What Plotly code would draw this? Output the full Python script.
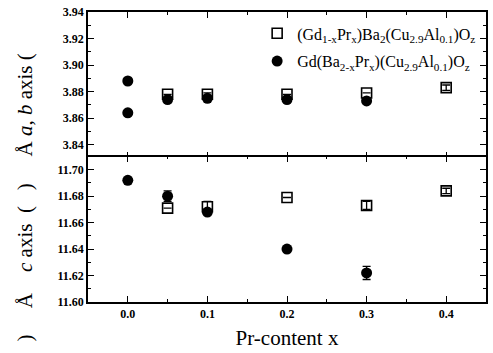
import plotly.graph_objects as go
from plotly.subplots import make_subplots

# Top panel: a, b axis (Å)
ab_sq_x = [0.05, 0.1, 0.2, 0.3, 0.4]
ab_sq_y = [3.878, 3.878, 3.878, 3.879, 3.883]
ab_sq_err = [0.0, 0.001, 0.0, 0.0, 0.002]
ab_ci_x = [0.0, 0.0, 0.05, 0.1, 0.2, 0.3]
ab_ci_y = [3.888, 3.864, 3.874, 3.875, 3.874, 3.873]

# Bottom panel: c axis (Å)
c_sq_x = [0.05, 0.1, 0.2, 0.3, 0.4]
c_sq_y = [11.671, 11.672, 11.679, 11.673, 11.684]
c_sq_err = [0.0, 0.004, 0.0, 0.003, 0.002]
c_ci_x = [0.0, 0.05, 0.1, 0.2, 0.3]
c_ci_y = [11.692, 11.680, 11.668, 11.640, 11.622]
c_ci_err = [0.0, 0.004, 0.0, 0.0, 0.005]

x_ticks = [0.0, 0.1, 0.2, 0.3, 0.4]
x_ticklabels = ["0.0", "0.1", "0.2", "0.3", "0.4"]
ab_ticks = [3.84, 3.86, 3.88, 3.90, 3.92, 3.94]
c_ticks = [11.60, 11.62, 11.64, 11.66, 11.68, 11.70]

name_sq = "(Gd<sub>1-x</sub>Pr<sub>x</sub>)Ba<sub>2</sub>(Cu<sub>2.9</sub>Al<sub>0.1</sub>)O<sub>z</sub>"
name_ci = "Gd(Ba<sub>2-x</sub>Pr<sub>x</sub>)(Cu<sub>2.9</sub>Al<sub>0.1</sub>)O<sub>z</sub>"

SERIF = "Liberation Serif"
PLOT_H = 292.0

fig = make_subplots(rows=2, cols=1, shared_xaxes=True, vertical_spacing=0)

sq_marker = dict(symbol="square-open", size=10, color="black", line=dict(width=1.6, color="black"))
ci_marker = dict(symbol="circle", size=11, color="black")
err_style = dict(type="data", visible=True, color="black", thickness=1.3, width=4)

fig.add_trace(go.Scatter(x=ab_sq_x, y=ab_sq_y, mode="markers", marker=sq_marker, name=name_sq,
                         legendgroup="a", error_y=dict(array=ab_sq_err, **err_style)), row=1, col=1)
fig.add_trace(go.Scatter(x=ab_ci_x, y=ab_ci_y, mode="markers", marker=ci_marker, name=name_ci,
                         legendgroup="b"), row=1, col=1)
fig.add_trace(go.Scatter(x=c_sq_x, y=c_sq_y, mode="markers", marker=sq_marker, showlegend=False,
                         error_y=dict(array=c_sq_err, **err_style)), row=2, col=1)
fig.add_trace(go.Scatter(x=c_ci_x, y=c_ci_y, mode="markers", marker=ci_marker, showlegend=False,
                         error_y=dict(array=c_ci_err, **err_style)), row=2, col=1)

tickfont = dict(family=SERIF, size=12, color="black", weight="bold")
axis_common = dict(showline=True, linecolor="black", linewidth=1.5, mirror="allticks",
                   ticks="inside", ticklen=6, tickwidth=1.3, tickcolor="black",
                   showgrid=False, zeroline=False, tickfont=tickfont,
                   minor=dict(ticks="inside", ticklen=3, tickwidth=1, tickcolor="black"))

fig.update_xaxes(range=[-0.05, 0.45], tickvals=x_ticks, ticktext=x_ticklabels,
                 minor_dtick=0.05, **axis_common)
fig.update_xaxes(showticklabels=False, row=1, col=1)
fig.update_xaxes(title=dict(text="Pr-content x", font=dict(family=SERIF, size=21, color="black"),
                            standoff=10), row=2, col=1)
fig.update_yaxes(range=[3.83, 3.94], tickvals=ab_ticks, ticktext=["%.2f" % v for v in ab_ticks],
                 minor_dtick=0.01, minor_tick0=3.83, domain=[145 / PLOT_H, 1],
                 row=1, col=1, **axis_common)
fig.update_yaxes(range=[11.60, 11.71], tickvals=c_ticks, ticktext=["%.2f" % v for v in c_ticks],
                 minor_dtick=0.01, minor_tick0=11.60, domain=[0, 146.5 / PLOT_H],
                 row=2, col=1, **axis_common)

NB = "\u00a0"
fig.add_annotation(text="Å" + NB + "<i>a</i>," + NB + "<i>b</i>" + NB + "axis" + NB + "(",
                   xref="paper", yref="paper", xanchor="center", yanchor="middle",
                   x=-0.158, y=(302 - 104) / PLOT_H, textangle=-90, showarrow=False,
                   font=dict(family=SERIF, size=21, color="black"))
fig.add_annotation(text=")" + NB * 5 + "Å" + NB * 4 + "<i>c</i>" + NB + "axis" + NB * 2 + "(" + NB * 3 + ")",
                   xref="paper", yref="paper", xanchor="center", yanchor="middle",
                   x=-0.158, y=(302 - 262) / PLOT_H, textangle=-90, showarrow=False,
                   font=dict(family=SERIF, size=21, color="black"))

fig.update_layout(
    width=493, height=353,
    margin=dict(l=88, r=5, t=10, b=51),
    paper_bgcolor="white", plot_bgcolor="white",
    legend=dict(x=0.425, y=0.985, xanchor="left", yanchor="top", bgcolor="rgba(0,0,0,0)",
                font=dict(family=SERIF, size=16, color="black"), tracegroupgap=4),
)

fig.write_html("out.html")
